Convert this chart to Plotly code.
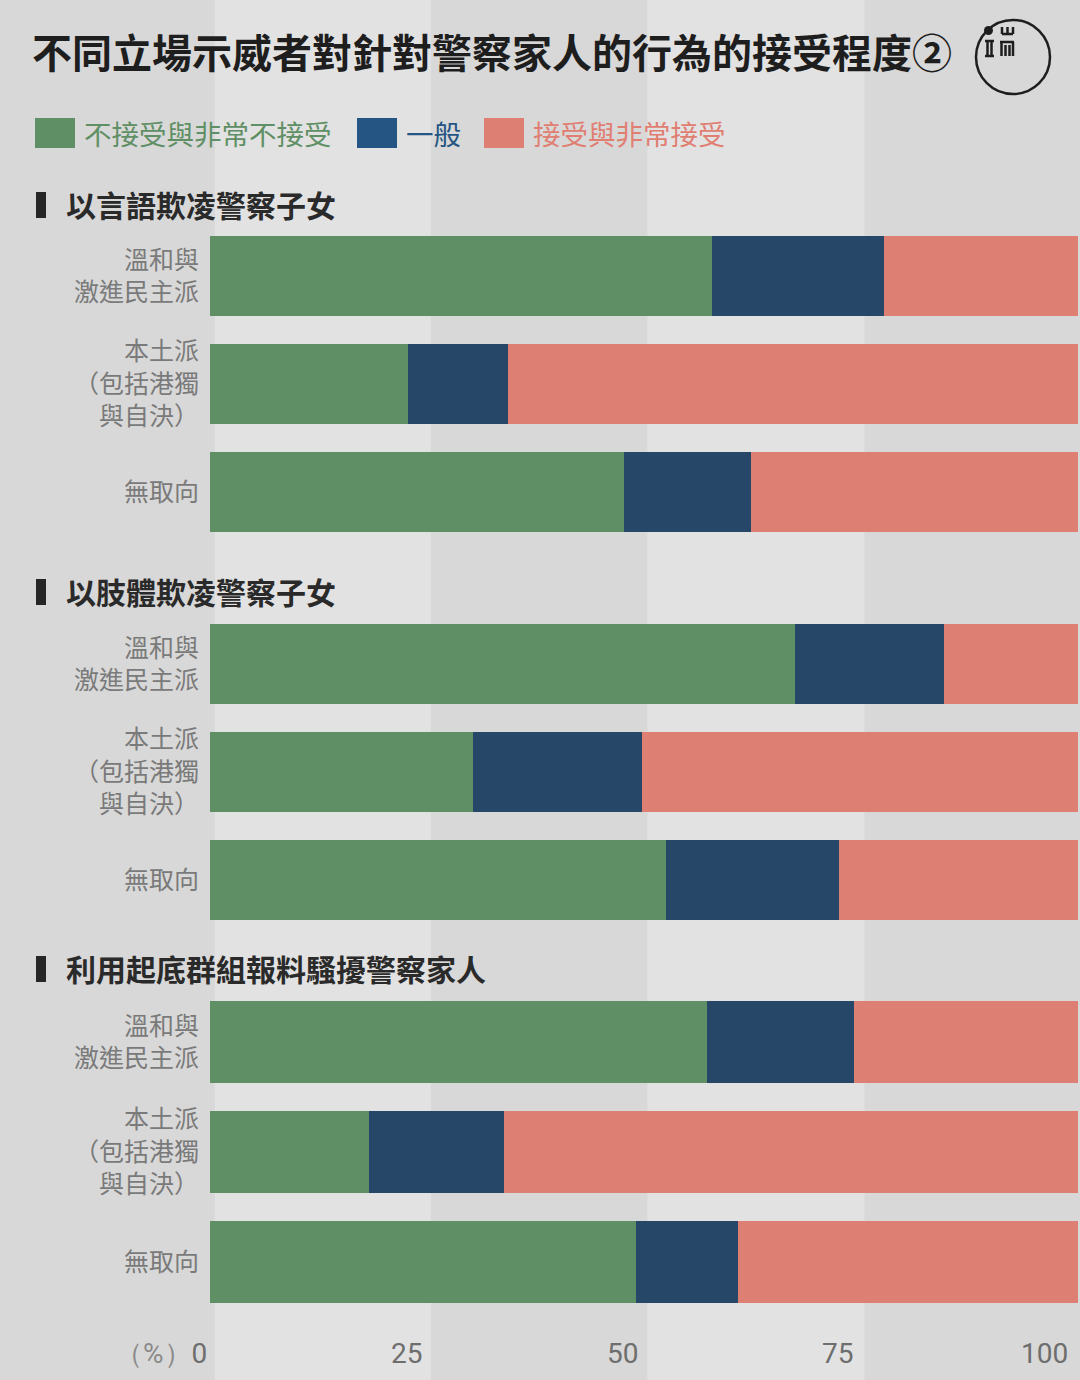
import plotly.graph_objects as go

# ---------------- data ----------------
groups = ["以言語欺凌警察子女", "以肢體欺凌警察子女", "利用起底群組報料騷擾警察家人"]
stances = ["溫和與<br>激進民主派", "本土派<br>（包括港獨<br>與自決）", "無取向"]
levels = ["不接受與非常不接受", "一般", "接受與非常接受"]

not_accept = [[57.8, 22.8, 47.7], [67.4, 30.3, 52.5], [57.3, 18.3, 49.1]]
neutral = [[19.8, 11.5, 14.6], [17.2, 19.5, 20.0], [16.9, 15.6, 11.7]]
accept = [[22.4, 65.7, 37.7], [15.4, 50.2, 27.5], [25.8, 66.1, 39.2]]

tick_vals = [0, 25, 50, 75, 100]
tick_text = ["<span style='color:#8a8a8a'>（%）</span>0", "25", "50", "75", "100"]

title = "不同立場示威者對針對警察家人的行為的接受程度②"

# ---------------- style ----------------
W, H = 1080, 1380
ML, MR = 210, 2
bar_colors = ["#5f8f64", "#264768", "#de7f73"]
legend_box = ["#5f8f64", "#255583", "#de7f73"]
legend_txt = ["#5f8f64", "#255583", "#e07e72"]
bg_dark = "#d8d8d8"
bg_light = "#e2e2e2"
SANS = "Noto Sans CJK TC"


def px_x(px):
    return (px - ML) / (W - ML - MR)


def px_y(py):
    return 1 - py / H


domains_px = [(222, 546), (610, 934), (987, 1317)]
header_y = [205, 592, 969]

fig = go.Figure()
series = [not_accept, neutral, accept]
for g in range(3):
    yname = "y" if g == 0 else f"y{g + 1}"
    for k in range(3):
        fig.add_trace(go.Bar(
            x=series[k][g], y=stances, orientation="h",
            name=levels[k], marker=dict(color=bar_colors[k], line=dict(width=0)),
            xaxis="x", yaxis=yname, showlegend=False,
            hovertemplate="%{y}: %{x}%<extra>" + levels[k] + "</extra>",
        ))

layout = dict(
    width=W, height=H,
    margin=dict(l=ML, r=MR, t=0, b=0),
    paper_bgcolor=bg_dark, plot_bgcolor="rgba(0,0,0,0)",
    barmode="stack", bargap=0.26,
    showlegend=False,
    font=dict(family=SANS, color="#777777"),
    xaxis=dict(range=[0, 100], domain=[0, 1], anchor="y3", showgrid=False,
               zeroline=False, showline=False, showticklabels=False, ticks=""),
)
for g in range(3):
    key = "yaxis" if g == 0 else f"yaxis{g + 1}"
    top, bot = domains_px[g]
    layout[key] = dict(
        domain=[px_y(bot), px_y(top)], anchor="x", type="category",
        range=[2.5, -0.5], showgrid=False, zeroline=False, showline=False,
        ticks="", ticklabelstandoff=10,
        tickfont=dict(family=SANS, size=25, color="#7a7a7a"),
    )
fig.update_layout(**layout)

shapes = []
# background bands
for a, b in [(0.55, 25.45), (50.4, 75.4)]:
    shapes.append(dict(type="rect", xref="x", yref="paper", x0=a, x1=b, y0=0, y1=1,
                       fillcolor=bg_light, line=dict(width=0), layer="below"))

annotations = []
# title
annotations.append(dict(text="<b>" + title + "</b>", xref="paper", yref="paper",
                        x=px_x(30), y=px_y(51), xanchor="left", yanchor="middle",
                        showarrow=False, font=dict(family=SANS, size=40, color="#1e1e1e")))

# legend
leg_x = [35, 357, 484]
for k in range(3):
    x0 = leg_x[k]
    shapes.append(dict(type="rect", xref="paper", yref="paper",
                       x0=px_x(x0), x1=px_x(x0 + 40), y0=px_y(148), y1=px_y(118),
                       fillcolor=legend_box[k], line=dict(width=0)))
    annotations.append(dict(text=levels[k], xref="paper", yref="paper",
                            x=px_x(x0 + 47), y=px_y(133), xanchor="left", yanchor="middle",
                            showarrow=False, font=dict(family=SANS, size=27.5, color=legend_txt[k])))

# section headers
for g in range(3):
    cy = header_y[g]
    shapes.append(dict(type="rect", xref="paper", yref="paper",
                       x0=px_x(36), x1=px_x(46), y0=px_y(cy + 13), y1=px_y(cy - 13),
                       fillcolor="#262626", line=dict(width=0)))
    annotations.append(dict(text="<b>" + groups[g] + "</b>", xref="paper", yref="paper",
                            x=px_x(64), y=px_y(cy - 1), xanchor="left", yanchor="middle",
                            showarrow=False, font=dict(family=SANS, size=30, color="#2a2a2a")))

# x tick labels (right-aligned at values)
for v, t in zip(tick_vals, tick_text):
    annotations.append(dict(text=t, xref="x", yref="paper", x=v, y=px_y(1353),
                            xanchor="right", yanchor="middle", xshift=-1 - v * 0.07, showarrow=False,
                            font=dict(family="Roboto", size=28, color="#6e6e6e")))

# logo
lc = "#1e1e1e"
shapes.append(dict(type="circle", xref="paper", yref="paper",
                   x0=px_x(976), x1=px_x(1050), y0=px_y(94), y1=px_y(20),
                   line=dict(color=lc, width=2.5)))
shapes.append(dict(type="circle", xref="paper", yref="paper",
                   x0=px_x(984), x1=px_x(993), y0=px_y(35), y1=px_y(26),
                   fillcolor=lc, line=dict(width=0)))
segs = [
    ((985, 41), (994, 41)), ((985, 56), (994, 56)), ((987.5, 41), (987.5, 56)), ((991.5, 41), (991.5, 56)),
    ((1002, 27), (1002, 34)), ((1007.5, 27), (1007.5, 34)), ((1013, 27), (1013, 34)), ((1002, 34), (1013, 34)),
    ((1000, 42), (1014, 42)), ((1001.5, 42), (1001.5, 56)), ((1005.5, 45), (1005.5, 56)),
    ((1009.5, 45), (1009.5, 56)), ((1013, 42), (1013, 56)),
]
for (xa, ya), (xb, yb) in segs:
    shapes.append(dict(type="line", xref="paper", yref="paper",
                       x0=px_x(xa), y0=px_y(ya), x1=px_x(xb), y1=px_y(yb),
                       line=dict(color=lc, width=2.5)))

fig.update_layout(shapes=shapes, annotations=annotations)
fig.write_html("out.html", config={"displayModeBar": False},
               post_script="document.body.style.margin='0';document.body.style.padding='0';")
